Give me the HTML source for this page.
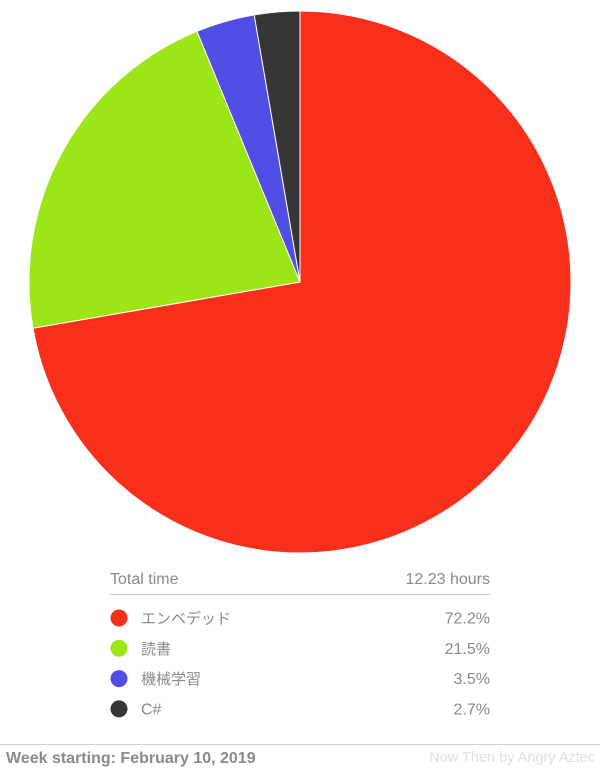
<!DOCTYPE html>
<html><head><meta charset="utf-8"><style>
body{margin:0;width:600px;height:770px;background:#fff;font-family:"Liberation Sans","Noto Sans CJK JP",sans-serif;position:relative;overflow:hidden}
svg{position:absolute;left:0;top:0}
</style></head><body>
<svg width="600" height="770" id="chart"></svg>
<script>
const categories=["エンベデッド","読書","機械学習","C#"];
const percents=[72.2,21.5,3.5,2.7];
const labels=["72.2%","21.5%","3.5%","2.7%"];
const colors=["#f72f1b","#9ce516","#514ee6","#363636"];
const totalLabel="12.23 hours";
const NS="http://www.w3.org/2000/svg";
const svg=document.getElementById('chart');
function mk(t,a,p){const e=document.createElementNS(NS,t);for(const k in a)e.setAttribute(k,a[k]);(p||svg).appendChild(e);return e;}
const cx=300,cy=282,r=271;
const sum=percents.reduce((a,b)=>a+b,0);
function pt(f){const a=f*2*Math.PI;return [cx+r*Math.sin(a),cy-r*Math.cos(a)];}
let acc=0;
percents.forEach((v,i)=>{
  const f0=acc/sum,f1=(acc+v)/sum;acc+=v;
  const [x0,y0]=pt(f0),[x1,y1]=pt(f1);
  const large=(f1-f0)>0.5?1:0;
  const p=mk('path',{d:`M${cx},${cy}L${x0},${y0}A${r},${r} 0 ${large} 1 ${x1},${y1}Z`,fill:colors[i],stroke:'#fff','stroke-width':1});
  
  
});
let t=mk('text',{x:110,y:584,'font-size':16,fill:'#8a8a8a'});t.textContent='Total time';

t=mk('text',{x:490,y:584,'font-size':16,fill:'#8a8a8a','text-anchor':'end'});t.textContent=totalLabel;

let l=mk('line',{x1:110,x2:490,y1:594.5,y2:594.5,stroke:'#c8c8c8'});

categories.forEach((c,i)=>{
  const y=618+i*30.3;
  const g=mk('g',{});
  
  mk('circle',{cx:119,cy:y,r:8.5,fill:colors[i]},g);
  const a=mk('text',{x:141,y:y+5.5,'font-size':c==='C#'?16:15,fill:'#8a8a8a'},g);a.textContent=c;
  const b=mk('text',{x:490,y:y+5.5,'font-size':16,fill:'#8a8a8a','text-anchor':'end'},g);b.textContent=labels[i];
});
l=mk('line',{x1:0,x2:600,y1:744.5,y2:744.5,stroke:'#cfcfcf'});

t=mk('text',{x:6,y:763,'font-size':16,'font-weight':'bold',fill:'#8a8a8a'});t.textContent='Week starting: February 10, 2019';

t=mk('text',{x:595,y:762,'font-size':14.5,fill:'#e0e0e0','text-anchor':'end'});t.textContent='Now Then by Angry Aztec';

</script>
</body></html>
